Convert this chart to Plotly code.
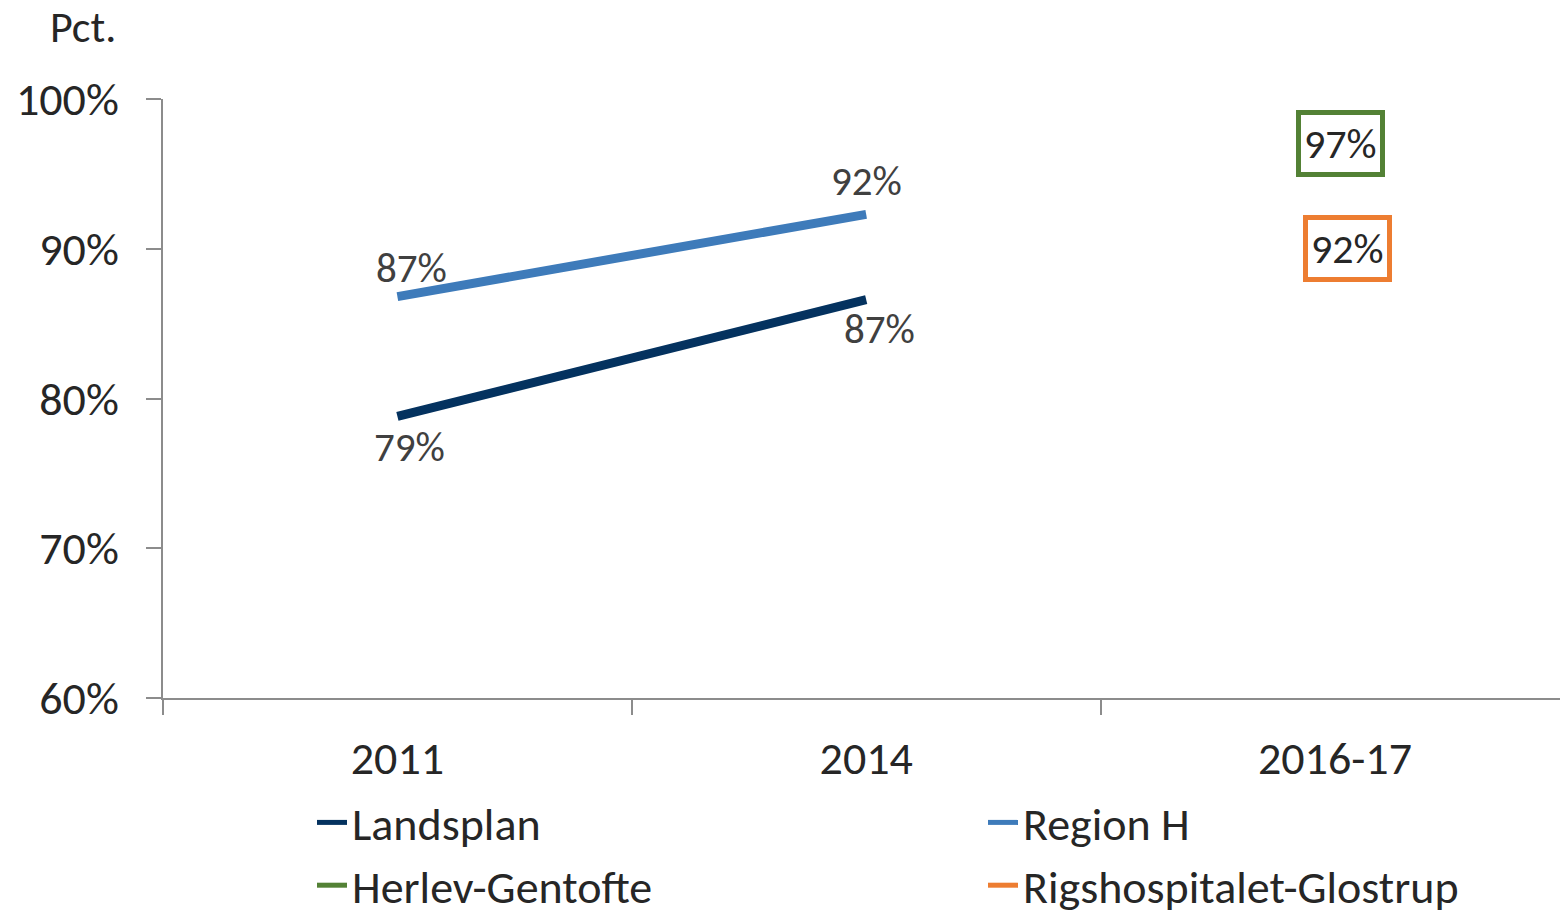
import plotly.graph_objects as go

categories = ["2011", "2014", "2016-17"]
landsplan = [78.8, 86.6, None]
region_h = [86.8, 92.3, None]
herlev_gentofte = [None, None, 97.0]
rigshospitalet_glostrup = [None, None, 92.0]

landsplan_labels = ["79%", "87%", ""]
region_h_labels = ["87%", "92%", ""]

colors = {
    "Landsplan": "#04325F",
    "Region H": "#3E7BBA",
    "Herlev-Gentofte": "#538135",
    "Rigshospitalet-Glostrup": "#ED7D31",
}

FONT = "Carlito, Calibri, Lato, sans-serif"
TXT = "#404040"
DARK = "#262626"

fig = go.Figure()
fig.add_trace(go.Scatter(
    x=categories, y=landsplan, name="Landsplan", mode="lines",
    line=dict(color=colors["Landsplan"], width=9),
))
fig.add_trace(go.Scatter(
    x=categories, y=region_h, name="Region H", mode="lines",
    line=dict(color=colors["Region H"], width=9),
))
fig.add_trace(go.Scatter(
    x=categories, y=herlev_gentofte, name="Herlev-Gentofte", mode="lines",
    line=dict(color=colors["Herlev-Gentofte"], width=9),
))
fig.add_trace(go.Scatter(
    x=categories, y=rigshospitalet_glostrup, name="Rigshospitalet-Glostrup", mode="lines",
    line=dict(color=colors["Rigshospitalet-Glostrup"], width=9),
))

# data labels anchored on the data points (category index used as x position)
lands_shift = [(12, -31), (13, -29)]
region_shift = [(14, 29), (0, 33)]
for i in range(2):
    fig.add_annotation(x=i, y=landsplan[i], text=landsplan_labels[i], showarrow=False,
                       xshift=lands_shift[i][0], yshift=lands_shift[i][1],
                       font=dict(size=41, color=TXT, family=FONT))
    fig.add_annotation(x=i, y=region_h[i], text=region_h_labels[i], showarrow=False,
                       xshift=region_shift[i][0], yshift=region_shift[i][1],
                       font=dict(size=41, color=TXT, family=FONT))

# boxed labels for the single 2016-17 values
fig.add_annotation(x=2, y=herlev_gentofte[2], text=f"{herlev_gentofte[2]:.0f}%",
                   showarrow=False, xshift=6, bordercolor=colors["Herlev-Gentofte"], borderwidth=5,
                   borderpad=3, bgcolor="white", font=dict(size=42, color=DARK, family=FONT))
fig.add_annotation(x=2, y=rigshospitalet_glostrup[2], text=f"{rigshospitalet_glostrup[2]:.0f}%",
                   showarrow=False, xshift=13, yshift=-30, bordercolor=colors["Rigshospitalet-Glostrup"],
                   borderwidth=5, borderpad=3, bgcolor="white", font=dict(size=42, color=DARK, family=FONT))

fig.add_annotation(xref="paper", yref="paper", x=-45/1397, y=1 + 72/599, text="Pct.",
                   showarrow=False, xanchor="right", yanchor="middle",
                   font=dict(size=44, color=DARK, family=FONT))

fig.update_layout(
    width=1560, height=918,
    margin=dict(l=163, r=0, t=99, b=220, autoexpand=False),
    paper_bgcolor="white", plot_bgcolor="white",
    font=dict(family=FONT, color=DARK, size=46),
    showlegend=True,
    legend=dict(orientation="h", x=(312 - 163) / 1397, xanchor="left",
                y=-(786 - 698) / 599, yanchor="top",
                entrywidth=626, entrywidthmode="pixels",
                font=dict(size=46, color=DARK, family=FONT),
                itemsizing="constant", traceorder="normal"),
    xaxis=dict(type="category", range=[-0.5, 2.48], showline=True, linecolor="#8C8C8C", linewidth=2,
               ticks="outside", ticklen=15, tickcolor="#8C8C8C", tickwidth=2, tickson="boundaries",
               showgrid=False, zeroline=False, tickfont=dict(size=46, color=DARK),
               ticklabelstandoff=19),
    yaxis=dict(range=[60, 100], tickvals=[60, 70, 80, 90, 100],
               ticktext=["60%", "70%", "80%", "90%", "100%"],
               showline=True, linecolor="#8C8C8C", linewidth=2,
               ticks="outside", ticklen=15, tickcolor="#8C8C8C", tickwidth=2,
               showgrid=False, zeroline=False, tickfont=dict(size=46, color=DARK),
               ticklabelstandoff=18),
)

fig.write_html("out.html", config={"displayModeBar": False},
               post_script="document.body.style.margin='0';")
